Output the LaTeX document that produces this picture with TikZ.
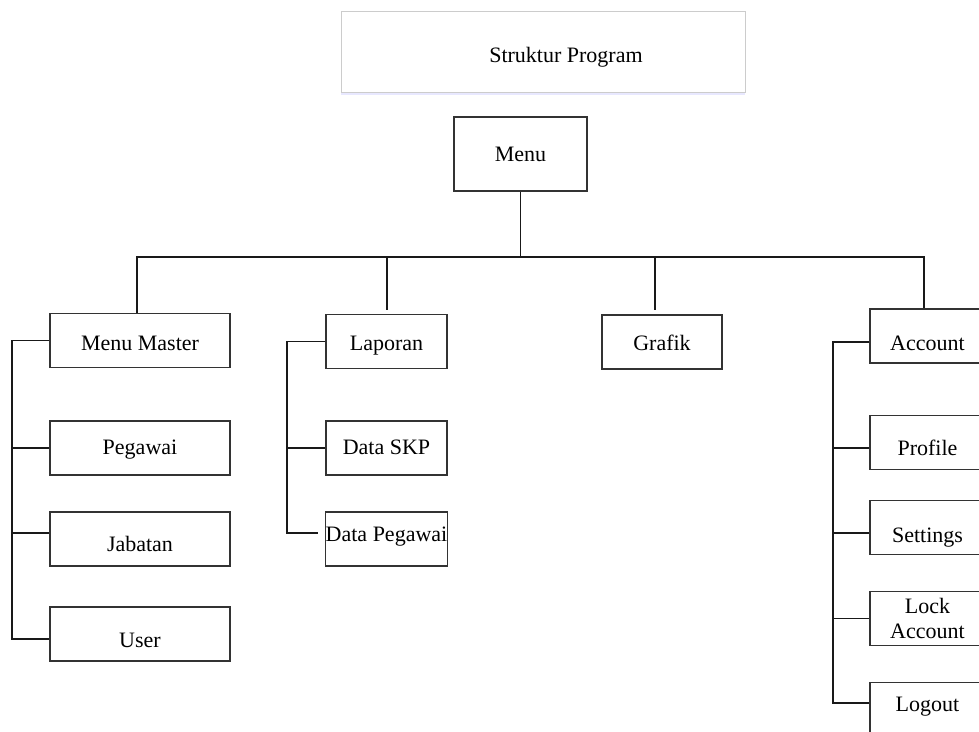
\documentclass[tikz,border=0pt]{standalone}
\usepackage{fontspec}
\setmainfont{Liberation Serif}
\usetikzlibrary{positioning, shadows}

\begin{document}
\begin{tikzpicture}[
  x=1pt, y=-1pt,
  box/.style={rectangle, draw=black!80, line width=1.1pt, inner sep=0pt, minimum height=54pt, align=center, font=\fontsize{22}{25}\selectfont},
  ty/.style={text depth=5pt, text height=#1},
  wide/.style={box, minimum width=180pt},
  narrow/.style={box, minimum width=121pt},
  side/.style={box, minimum width=115pt},
  link/.style={line width=1.2pt, black!90}
]
\useasboundingbox (0,0) rectangle (979,731);
\clip (0,0) rectangle (979,731);
% judul dan menu utama
\node[box, ty=26.6pt, draw=black!20, line width=0.8pt, fill=white, minimum width=404pt, minimum height=81pt,
  drop shadow={shadow xshift=0pt, shadow yshift=-3pt, fill=blue!30, opacity=0.3}] (title) at (543,51.5) {\hspace*{46pt}Struktur Program};
\node[box, ty=19.6pt, minimum width=133pt, minimum height=74pt] (menu) at (520.5,154) {Menu};
% kolom menu master
\node[wide, ty=24.6pt] (master) at (140,340.5) {Menu Master};
\node[wide, ty=17.6pt] (peg) at (140,448) {Pegawai};
\node[wide, ty=29.6pt] (jab) at (140,539) {Jabatan};
\node[wide, ty=31.6pt] (user) at (140,634) {User};
% kolom laporan dan grafik
\node[narrow, ty=22.6pt] (lap) at (386.5,341.5) {Laporan};
\node[narrow, ty=17.6pt] (skp) at (lap |- peg) {Data SKP};
\node[narrow, ty=9.6pt] (dpeg) at (lap |- jab) {Data Pegawai};
\node[narrow, ty=21.6pt, minimum width=120pt] (grafik) at (662,342) {Grafik};
% kolom account
\node[side, ty=33.6pt] (acc) at (927.5,336) {Account};
\node[side, ty=30.6pt] (prof) at (927.5,442.5) {Profile};
\node[side, ty=34.6pt] (sett) at (927.5,527.5) {Settings};
\node[side] (lock) at (927.5,618.5) {Lock\\Account};
\node[side, ty=8.6pt] (logout) at (927.5,709.5) {Logout};
\coordinate (busL) at (137,257);
\coordinate (busR) at (924,257);
\coordinate (busLap) at (387,257);
\coordinate (busGra) at (655,257);
\coordinate (spM) at (12,0);
\coordinate (spL) at (287,0);
\coordinate (spA) at (833,0);
\draw[link] (menu.south) -- (menu.south |- busL);
\draw[link] (busL |- master.north) -- (busL) -- (busR) -- (busR |- acc.north);
\draw[link, shorten >=4pt] (busLap) -- (busLap |- lap.north);
\draw[link, shorten >=4pt] (busGra) -- (busGra |- grafik.north);
% cabang kiri
\draw[link] (master.west) -- (master.west -| spM) -- ([yshift=-5pt]user.west -| spM) -- ([yshift=-5pt]user.west);
\draw[link] (peg.west -| spM) -- (peg.west);
\draw[link] ([yshift=6pt]jab.west -| spM) -- ([yshift=6pt]jab.west);
\draw[link, shorten >=7pt] (lap.west) -- (lap.west -| spL) -- ([yshift=6pt]dpeg.west -| spL) -- ([yshift=6pt]dpeg.west);
\draw[link] (skp.west -| spL) -- (skp.west);
% cabang kanan
\draw[link] ([yshift=-6pt]acc.west) -- ([yshift=-6pt]acc.west -| spA) -- ([yshift=6.5pt]logout.west -| spA) -- ([yshift=6.5pt]logout.west);
\draw[link] ([yshift=-5.5pt]prof.west -| spA) -- ([yshift=-5.5pt]prof.west);
\draw[link] ([yshift=-5.5pt]sett.west -| spA) -- ([yshift=-5.5pt]sett.west);
\draw[link] (lock.west -| spA) -- (lock.west);
\end{tikzpicture}
\end{document}
